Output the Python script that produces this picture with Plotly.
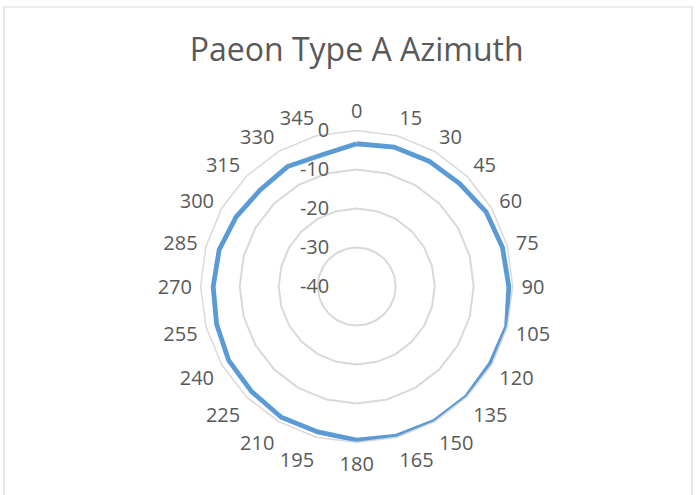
import plotly.graph_objects as go

angles = ["0", "15", "30", "45", "60", "75", "90", "105", "120", "135", "150", "165",
          "180", "195", "210", "225", "240", "255", "270", "285", "300", "315", "330", "345"]
gain = [-3.4, -3.0, -2.9, -2.7, -1.7, -1.3, -1.0, -0.2, -0.4, -0.1, -0.1, -0.3,
        -0.6, -1.4, -1.3, -1.9, -2.1, -2.8, -3.2, -3.5, -4.3, -5.0, -4.5, -5.1]
radial_ticks = [-40, -30, -20, -10, 0]
title_text = "Paeon Type A Azimuth"

W, H = 698, 495
cx, cy, R = 356.7, 286.5, 156.0

fig = go.Figure()
fig.add_trace(go.Scatterpolar(
    r=gain + gain[:1],
    theta=angles + angles[:1],
    mode="lines",
    line=dict(color="#5b9bd5", width=4.8),
    hoverinfo="r+theta",
    showlegend=False,
))

font = "Open Sans, Noto Sans, sans-serif"
fig.update_layout(
    width=W, height=H,
    margin=dict(l=0, r=0, t=0, b=0),
    paper_bgcolor="white",
    plot_bgcolor="white",
    title=dict(text=title_text, x=(cx) / W, xanchor="center", y=1 - 50 / H, yanchor="middle",
               font=dict(family=font, size=32, color="#595959")),
    polar=dict(
        domain=dict(x=[(cx - R) / W, (cx + R) / W], y=[(H - cy - R) / H, (H - cy + R) / H]),
        bgcolor="white",
        gridshape="linear",
        angularaxis=dict(
            type="category",
            categoryarray=angles,
            direction="clockwise",
            rotation=90,
            showgrid=False,
            showline=True,
            linecolor="#d9d9d9",
            linewidth=1.5,
            ticks="outside",
            ticklen=4,
            tickcolor="rgba(0,0,0,0)",
            tickfont=dict(family=font, size=20, color="#595959"),
        ),
        radialaxis=dict(
            range=[-40, 0],
            tickvals=radial_ticks,
            ticktext=[str(v) for v in radial_ticks],
            showline=False,
            showgrid=True,
            gridcolor="#d9d9d9",
            gridwidth=1.5,
            ticks="outside",
            ticklen=20,
            tickcolor="rgba(0,0,0,0)",
            angle=90,
            tickangle=90,
            side="counterclockwise",
            tickfont=dict(family=font, size=20, color="#595959"),
        ),
    ),
    shapes=[dict(type="rect", xref="paper", yref="paper",
                 x0=4 / W, x1=692 / W, y0=-0.02, y1=1 - 7 / H,
                 line=dict(color="#d9d9d9", width=1.2), fillcolor="rgba(0,0,0,0)")],
)

fig.write_html("out.html", config={"displayModeBar": False},
               post_script="document.body.style.margin='0px';")
